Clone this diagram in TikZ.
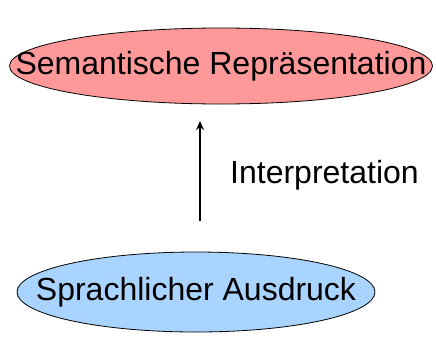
\documentclass[tikz,border=0pt]{standalone}
\usepackage{fontspec}
\setmainfont{Liberation Sans}
\usetikzlibrary{shapes.geometric,arrows.meta}
\definecolor{semred}{RGB}{255,153,153}
\definecolor{sprblue}{RGB}{168,212,255}
\tikzset{
  blob/.style={ellipse, draw=black, line width=0.8pt, inner sep=0pt},
  lbl/.style={font=\fontsize{32}{36}\selectfont, inner sep=0pt}
}
\begin{document}
\begin{tikzpicture}[x=1pt,y=-1pt]
\useasboundingbox (0,0) rectangle (436,338);
% the two ellipses
\node[blob, fill=semred, minimum width=423pt, minimum height=76pt] (sem) at (221,66) {};
\node[blob, fill=sprblue, minimum width=358pt, minimum height=80pt] (spr) at (196,292) {};
% their captions
\node[lbl] (semtext) at (sem.center) {Semantische Repräsentation};
\node[lbl] (sprtext) at (spr.center) {Sprachlicher Ausdruck};
% interpretation arrow
\coordinate (a0) at (200,221);
\coordinate (a1) at (200,121);
\draw[line width=2.2pt, -{Stealth[length=9pt,width=8pt]}] (a0) -- (a1);
\node[lbl, anchor=west] (interp) at (230,175) {Interpretation};
\end{tikzpicture}
\end{document}
